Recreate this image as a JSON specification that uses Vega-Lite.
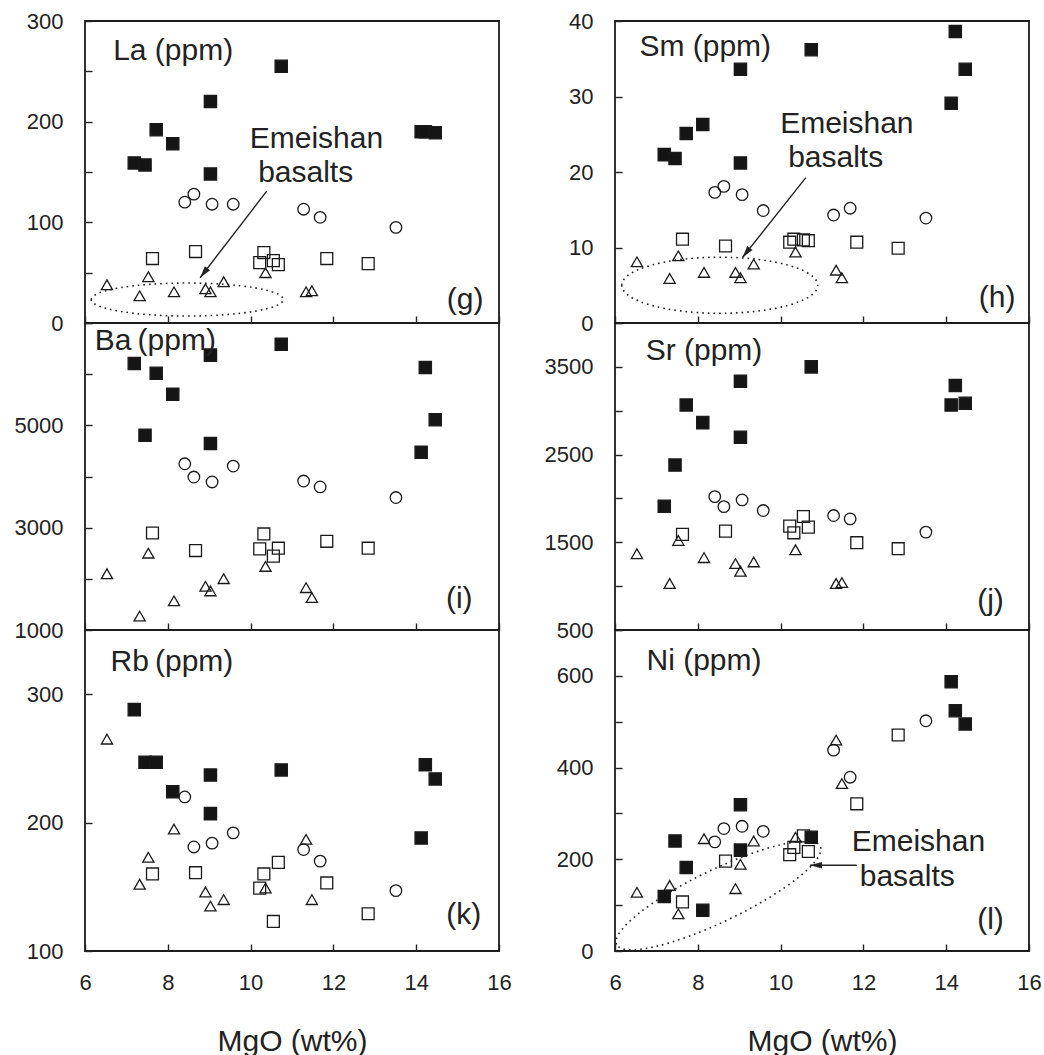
{
  "$schema": "https://vega.github.io/schema/vega-lite/v6.json",
  "background": "white",
  "padding": {"left": 13, "top": 9, "right": 0, "bottom": 0},
  "datasets": {
    "pts": [
      {"g":"fs","m":7.19,"La":159,"Sm":22.3,"Ba":6210,"Sr":1911,"Rb":288,"Ni":119},
      {"g":"fs","m":7.45,"La":157,"Sm":21.8,"Ba":4806,"Sr":2380,"Rb":247,"Ni":240},
      {"g":"fs","m":7.72,"La":192,"Sm":25.1,"Ba":6016,"Sr":3065,"Rb":247,"Ni":182},
      {"g":"fs","m":8.12,"La":178,"Sm":26.3,"Ba":5608,"Sr":2864,"Rb":224,"Ni":89},
      {"g":"fs","m":9.03,"La":220,"Sm":33.6,"Ba":6372,"Sr":3337,"Rb":237,"Ni":319},
      {"g":"fs","m":9.03,"La":148,"Sm":21.2,"Ba":4644,"Sr":2698,"Rb":207,"Ni":220},
      {"g":"fs","m":10.74,"La":255,"Sm":36.2,"Ba":6585,"Sr":3500,"Rb":241,"Ni":248},
      {"g":"fs","m":14.12,"La":190,"Sm":29.1,"Ba":4475,"Sr":3065,"Rb":188,"Ni":587},
      {"g":"fs","m":14.22,"La":190,"Sm":38.6,"Ba":6132,"Sr":3288,"Rb":245,"Ni":524},
      {"g":"fs","m":14.46,"La":189,"Sm":33.6,"Ba":5110,"Sr":3084,"Rb":234,"Ni":495},
      {"g":"os","m":7.63,"La":64,"Sm":11.1,"Ba":2896,"Sr":1590,"Rb":160,"Ni":107},
      {"g":"os","m":8.67,"La":71,"Sm":10.2,"Ba":2553,"Sr":1627,"Rb":161,"Ni":196},
      {"g":"os","m":10.22,"La":60,"Sm":10.7,"Ba":2586,"Sr":1684,"Rb":149,"Ni":210},
      {"g":"os","m":10.32,"La":70,"Sm":11.1,"Ba":2877,"Sr":1608,"Rb":160,"Ni":226},
      {"g":"os","m":10.55,"La":62,"Sm":11.0,"Ba":2443,"Sr":1794,"Rb":123,"Ni":251},
      {"g":"os","m":10.67,"La":58,"Sm":10.9,"Ba":2599,"Sr":1673,"Rb":169,"Ni":217},
      {"g":"os","m":11.84,"La":64,"Sm":10.7,"Ba":2734,"Sr":1495,"Rb":153,"Ni":321},
      {"g":"os","m":12.84,"La":59,"Sm":9.9,"Ba":2599,"Sr":1427,"Rb":129,"Ni":471},
      {"g":"oc","m":8.41,"La":120,"Sm":17.3,"Ba":4249,"Sr":2021,"Rb":220,"Ni":238},
      {"g":"oc","m":8.63,"La":128,"Sm":18.1,"Ba":3990,"Sr":1907,"Rb":181,"Ni":267},
      {"g":"oc","m":9.07,"La":118,"Sm":17.0,"Ba":3893,"Sr":1983,"Rb":184,"Ni":272},
      {"g":"oc","m":9.58,"La":118,"Sm":14.9,"Ba":4204,"Sr":1862,"Rb":192,"Ni":261},
      {"g":"oc","m":11.28,"La":113,"Sm":14.3,"Ba":3912,"Sr":1805,"Rb":179,"Ni":438},
      {"g":"oc","m":11.68,"La":105,"Sm":15.2,"Ba":3796,"Sr":1767,"Rb":170,"Ni":379},
      {"g":"oc","m":13.51,"La":95,"Sm":13.9,"Ba":3589,"Sr":1616,"Rb":147,"Ni":502},
      {"g":"ot","m":6.53,"La":38,"Sm":8.1,"Ba":2100,"Sr":1370,"Rb":265,"Ni":128},
      {"g":"ot","m":7.32,"La":27,"Sm":5.9,"Ba":1272,"Sr":1030,"Rb":152,"Ni":143},
      {"g":"ot","m":7.53,"La":46,"Sm":8.9,"Ba":2502,"Sr":1521,"Rb":173,"Ni":81},
      {"g":"ot","m":8.15,"La":31,"Sm":6.7,"Ba":1570,"Sr":1325,"Rb":195,"Ni":245},
      {"g":"ot","m":8.91,"La":34,"Sm":6.7,"Ba":1854,"Sr":1257,"Rb":146,"Ni":136},
      {"g":"ot","m":9.03,"La":31,"Sm":6.0,"Ba":1764,"Sr":1170,"Rb":135,"Ni":189},
      {"g":"ot","m":9.35,"La":41,"Sm":7.8,"Ba":2003,"Sr":1276,"Rb":140,"Ni":240},
      {"g":"ot","m":10.36,"La":50,"Sm":9.4,"Ba":2243,"Sr":1415,"Rb":149,"Ni":248},
      {"g":"ot","m":11.34,"La":31,"Sm":7.0,"Ba":1828,"Sr":1030,"Rb":187,"Ni":460},
      {"g":"ot","m":11.48,"La":32,"Sm":6.0,"Ba":1634,"Sr":1041,"Rb":140,"Ni":365}
    ],
    "ann": [
      {"k":"t","t":"La (ppm)","m":8.13,"La":270},
      {"k":"t","t":"(g)","m":15.18,"La":22.7},
      {"k":"t","t":"Emeishan","m":11.59,"La":183},
      {"k":"t","t":"basalts","m":11.33,"La":149},
      {"k":"t","t":"Sm (ppm)","m":8.18,"Sm":36.6},
      {"k":"t","t":"(h)","m":15.23,"Sm":3.3},
      {"k":"t","t":"Emeishan","m":11.6,"Sm":26.3},
      {"k":"t","t":"basalts","m":11.33,"Sm":21.8},
      {"k":"t","t":"Ba\u2009(ppm)","m":7.7,"Ba":6644},
      {"k":"t","t":"(i)","m":15.04,"Ba":1615},
      {"k":"t","t":"Sr (ppm)","m":8.15,"Sr":3678},
      {"k":"t","t":"(j)","m":15.07,"Sr":829},
      {"k":"t","t":"Rb\u2009(ppm)","m":8.1,"Rb":325},
      {"k":"t","t":"(k)","m":15.15,"Rb":128},
      {"k":"t","t":"Ni (ppm)","m":8.15,"Ni":632},
      {"k":"t","t":"(l)","m":15.07,"Ni":68},
      {"k":"t","t":"Emeishan","m":13.33,"Ni":237},
      {"k":"t","t":"basalts","m":13.06,"Ni":162},
      {"k":"e","m":8.47,"La":23.3},
      {"k":"e","m":8.53,"Sm":5.0},
      {"k":"e","m":8.5,"Ni":121},
      {"k":"a","m":10.39,"La":131,"m2":8.78,"La2":45},
      {"k":"a","m":10.61,"Sm":19.25,"m2":9.08,"Sm2":8.68},
      {"k":"a","m":11.84,"Ni":187,"m2":10.71,"Ni2":187},
      {"k":"h","m":8.78,"La":45},
      {"k":"h","m":9.08,"Sm":8.68},
      {"k":"h","m":10.71,"Ni":187}
    ]
  },
  "config": {
    "view": {"stroke": "#1c1c1c", "strokeWidth": 1.8},
    "font": "Liberation Sans",
    "axis": {"grid": false, "domain": false, "ticks": true, "tickColor": "#222", "tickWidth": 1.4, "tickSize": -7,
      "labelFont": "Liberation Sans", "labelFontSize": 22, "labelColor": "#222", "labelFlush": false, "labelOverlap": false,
      "titleFont": "Liberation Sans", "titleFontSize": 30, "titleFontWeight": "normal", "titleColor": "#222"},
    "axisY": {"labelPadding": 29},
    "axisX": {"labelPadding": 28, "titlePadding": 33},
    "legend": {"disable": true},
    "text": {"font": "Liberation Sans", "fontSize": 30, "fill": "#222", "align": "center", "baseline": "middle"}
  },
  "columns": 2,
  "spacing": {"row": 0, "column": 116},
  "bounds": "flush",
  "concat": [
    {
      "width": 414, "height": 302,
      "encoding": {
        "x": {"field": "m", "type": "quantitative", "scale": {"domain": [6, 16], "nice": false, "zero": false}, "axis": {"values": [6,8,10,12,14,16], "labels": false, "title": null}},
        "y": {"field": "La", "type": "quantitative", "scale": {"domain": [0, 300], "nice": false, "zero": false}, "axis": {"values": [0,50,100,150,200,250,300], "labelExpr": "datum.value % 100 == 0 ? datum.label : ''", "title": null}}
      },
      "layer": [
        {"data": {"name": "ann"}, "transform": [{"filter": "datum.k == 'e' && isValid(datum.La)"}],
         "mark": {"type": "point", "shape": "M-1,0A1,0.172,0,1,1,1,0A1,0.172,0,1,1,-1,0Z", "size": 36864, "filled": false, "stroke": "#222", "strokeWidth": 1.6, "strokeDash": [1.6, 4], "opacity": 1}},
        {"data": {"name": "pts"}, "mark": {"type": "point", "filled": true, "stroke": "#1a1a1a", "strokeWidth": 1.3, "opacity": 1},
         "encoding": {
           "shape": {"field": "g", "type": "nominal", "scale": {"domain": ["fs","os","oc","ot"], "range": ["square","square","circle","triangle-up"]}, "legend": null},
           "fill": {"field": "g", "type": "nominal", "scale": {"domain": ["fs","os","oc","ot"], "range": ["#151515","transparent","transparent","transparent"]}, "legend": null},
           "size": {"field": "g", "type": "ordinal", "scale": {"domain": ["fs","os","oc","ot"], "range": [150,125,100,150]}, "legend": null}
         }},
        {"data": {"name": "ann"}, "transform": [{"filter": "datum.k == 'a' && isValid(datum.La)"}],
         "mark": {"type": "rule", "stroke": "#222", "strokeWidth": 1.4},
         "encoding": {"x2": {"field": "m2"}, "y2": {"field": "La2"}}},
        {"data": {"name": "ann"}, "transform": [{"filter": "datum.k == 'h' && isValid(datum.La)"}],
         "mark": {"type": "point", "shape": "M0,0L0.55,2L-0.55,2Z", "size": 144, "angle": 218, "filled": true, "fill": "#222", "stroke": null, "opacity": 1}},
        {"data": {"name": "ann"}, "transform": [{"filter": "datum.k == 't' && isValid(datum.La)"}],
         "mark": {"type": "text"}, "encoding": {"text": {"field": "t"}}}
      ]
    },
    {
      "width": 414, "height": 302,
      "encoding": {
        "x": {"field": "m", "type": "quantitative", "scale": {"domain": [6, 16], "nice": false, "zero": false}, "axis": {"values": [6,8,10,12,14,16], "labels": false, "title": null}},
        "y": {"field": "Sm", "type": "quantitative", "scale": {"domain": [0, 40], "nice": false, "zero": false}, "axis": {"values": [0,10,20,30,40], "title": null}}
      },
      "layer": [
        {"data": {"name": "ann"}, "transform": [{"filter": "datum.k == 'e' && isValid(datum.Sm)"}],
         "mark": {"type": "point", "shape": "M-1,0A1,0.286,0,1,1,1,0A1,0.286,0,1,1,-1,0Z", "size": 38416, "filled": false, "stroke": "#222", "strokeWidth": 1.6, "strokeDash": [1.6, 4], "opacity": 1}},
        {"data": {"name": "pts"}, "mark": {"type": "point", "filled": true, "stroke": "#1a1a1a", "strokeWidth": 1.3, "opacity": 1},
         "encoding": {
           "shape": {"field": "g", "type": "nominal", "scale": {"domain": ["fs","os","oc","ot"], "range": ["square","square","circle","triangle-up"]}, "legend": null},
           "fill": {"field": "g", "type": "nominal", "scale": {"domain": ["fs","os","oc","ot"], "range": ["#151515","transparent","transparent","transparent"]}, "legend": null},
           "size": {"field": "g", "type": "ordinal", "scale": {"domain": ["fs","os","oc","ot"], "range": [150,125,100,150]}, "legend": null}
         }},
        {"data": {"name": "ann"}, "transform": [{"filter": "datum.k == 'a' && isValid(datum.Sm)"}],
         "mark": {"type": "rule", "stroke": "#222", "strokeWidth": 1.4},
         "encoding": {"x2": {"field": "m2"}, "y2": {"field": "Sm2"}}},
        {"data": {"name": "ann"}, "transform": [{"filter": "datum.k == 'h' && isValid(datum.Sm)"}],
         "mark": {"type": "point", "shape": "M0,0L0.55,2L-0.55,2Z", "size": 144, "angle": 218, "filled": true, "fill": "#222", "stroke": null, "opacity": 1}},
        {"data": {"name": "ann"}, "transform": [{"filter": "datum.k == 't' && isValid(datum.Sm)"}],
         "mark": {"type": "text"}, "encoding": {"text": {"field": "t"}}}
      ]
    },
    {
      "width": 414, "height": 307,
      "encoding": {
        "x": {"field": "m", "type": "quantitative", "scale": {"domain": [6, 16], "nice": false, "zero": false}, "axis": {"values": [6,8,10,12,14,16], "labels": false, "title": null}},
        "y": {"field": "Ba", "type": "quantitative", "scale": {"domain": [1000, 7000], "nice": false, "zero": false}, "axis": {"values": [1000,2000,3000,4000,5000,6000,7000], "format": "d", "labelExpr": "(datum.value == 1000 || datum.value == 3000 || datum.value == 5000) ? datum.label : ''", "title": null}}
      },
      "layer": [
        {"data": {"name": "pts"}, "mark": {"type": "point", "filled": true, "stroke": "#1a1a1a", "strokeWidth": 1.3, "opacity": 1},
         "encoding": {
           "shape": {"field": "g", "type": "nominal", "scale": {"domain": ["fs","os","oc","ot"], "range": ["square","square","circle","triangle-up"]}, "legend": null},
           "fill": {"field": "g", "type": "nominal", "scale": {"domain": ["fs","os","oc","ot"], "range": ["#151515","transparent","transparent","transparent"]}, "legend": null},
           "size": {"field": "g", "type": "ordinal", "scale": {"domain": ["fs","os","oc","ot"], "range": [150,125,100,150]}, "legend": null}
         }},
        {"data": {"name": "ann"}, "transform": [{"filter": "datum.k == 't' && isValid(datum.Ba)"}],
         "mark": {"type": "text"}, "encoding": {"text": {"field": "t"}}}
      ]
    },
    {
      "width": 414, "height": 307,
      "encoding": {
        "x": {"field": "m", "type": "quantitative", "scale": {"domain": [6, 16], "nice": false, "zero": false}, "axis": {"values": [6,8,10,12,14,16], "labels": false, "title": null}},
        "y": {"field": "Sr", "type": "quantitative", "scale": {"domain": [500, 4000], "nice": false, "zero": false}, "axis": {"values": [500,1000,1500,2000,2500,3000,3500,4000], "format": "d", "labelExpr": "datum.value % 1000 == 500 ? datum.label : ''", "title": null}}
      },
      "layer": [
        {"data": {"name": "pts"}, "mark": {"type": "point", "filled": true, "stroke": "#1a1a1a", "strokeWidth": 1.3, "opacity": 1},
         "encoding": {
           "shape": {"field": "g", "type": "nominal", "scale": {"domain": ["fs","os","oc","ot"], "range": ["square","square","circle","triangle-up"]}, "legend": null},
           "fill": {"field": "g", "type": "nominal", "scale": {"domain": ["fs","os","oc","ot"], "range": ["#151515","transparent","transparent","transparent"]}, "legend": null},
           "size": {"field": "g", "type": "ordinal", "scale": {"domain": ["fs","os","oc","ot"], "range": [150,125,100,150]}, "legend": null}
         }},
        {"data": {"name": "ann"}, "transform": [{"filter": "datum.k == 't' && isValid(datum.Sr)"}],
         "mark": {"type": "text"}, "encoding": {"text": {"field": "t"}}}
      ]
    },
    {
      "width": 414, "height": 321,
      "encoding": {
        "x": {"field": "m", "type": "quantitative", "scale": {"domain": [6, 16], "nice": false, "zero": false}, "axis": {"values": [6,8,10,12,14,16], "title": "MgO (wt%)"}},
        "y": {"field": "Rb", "type": "quantitative", "scale": {"domain": [100, 350], "nice": false, "zero": false}, "axis": {"values": [100,200,300], "title": null}}
      },
      "layer": [
        {"data": {"name": "pts"}, "mark": {"type": "point", "filled": true, "stroke": "#1a1a1a", "strokeWidth": 1.3, "opacity": 1},
         "encoding": {
           "shape": {"field": "g", "type": "nominal", "scale": {"domain": ["fs","os","oc","ot"], "range": ["square","square","circle","triangle-up"]}, "legend": null},
           "fill": {"field": "g", "type": "nominal", "scale": {"domain": ["fs","os","oc","ot"], "range": ["#151515","transparent","transparent","transparent"]}, "legend": null},
           "size": {"field": "g", "type": "ordinal", "scale": {"domain": ["fs","os","oc","ot"], "range": [150,125,100,150]}, "legend": null}
         }},
        {"data": {"name": "ann"}, "transform": [{"filter": "datum.k == 't' && isValid(datum.Rb)"}],
         "mark": {"type": "text"}, "encoding": {"text": {"field": "t"}}}
      ]
    },
    {
      "width": 414, "height": 321,
      "encoding": {
        "x": {"field": "m", "type": "quantitative", "scale": {"domain": [6, 16], "nice": false, "zero": false}, "axis": {"values": [6,8,10,12,14,16], "title": "MgO (wt%)"}},
        "y": {"field": "Ni", "type": "quantitative", "scale": {"domain": [0, 700], "nice": false, "zero": false}, "axis": {"values": [0,100,200,300,400,500,600,700], "labelExpr": "datum.value % 200 == 0 ? datum.label : ''", "title": null}}
      },
      "layer": [
        {"data": {"name": "ann"}, "transform": [{"filter": "datum.k == 'e' && isValid(datum.Ni)"}],
         "mark": {"type": "point", "shape": "M-1,0A1,0.23,0,1,1,1,0A1,0.23,0,1,1,-1,0Z", "size": 51076, "angle": 334.3, "filled": false, "stroke": "#222", "strokeWidth": 1.6, "strokeDash": [1.6, 4], "opacity": 1}},
        {"data": {"name": "pts"}, "mark": {"type": "point", "filled": true, "stroke": "#1a1a1a", "strokeWidth": 1.3, "opacity": 1},
         "encoding": {
           "shape": {"field": "g", "type": "nominal", "scale": {"domain": ["fs","os","oc","ot"], "range": ["square","square","circle","triangle-up"]}, "legend": null},
           "fill": {"field": "g", "type": "nominal", "scale": {"domain": ["fs","os","oc","ot"], "range": ["#151515","transparent","transparent","transparent"]}, "legend": null},
           "size": {"field": "g", "type": "ordinal", "scale": {"domain": ["fs","os","oc","ot"], "range": [150,125,100,150]}, "legend": null}
         }},
        {"data": {"name": "ann"}, "transform": [{"filter": "datum.k == 'a' && isValid(datum.Ni)"}],
         "mark": {"type": "rule", "stroke": "#222", "strokeWidth": 1.4},
         "encoding": {"x2": {"field": "m2"}, "y2": {"field": "Ni2"}}},
        {"data": {"name": "ann"}, "transform": [{"filter": "datum.k == 'h' && isValid(datum.Ni)"}],
         "mark": {"type": "point", "shape": "M0,0L0.55,2L-0.55,2Z", "size": 144, "angle": 270, "filled": true, "fill": "#222", "stroke": null, "opacity": 1}},
        {"data": {"name": "ann"}, "transform": [{"filter": "datum.k == 't' && isValid(datum.Ni)"}],
         "mark": {"type": "text"}, "encoding": {"text": {"field": "t"}}}
      ]
    }
  ]
}
